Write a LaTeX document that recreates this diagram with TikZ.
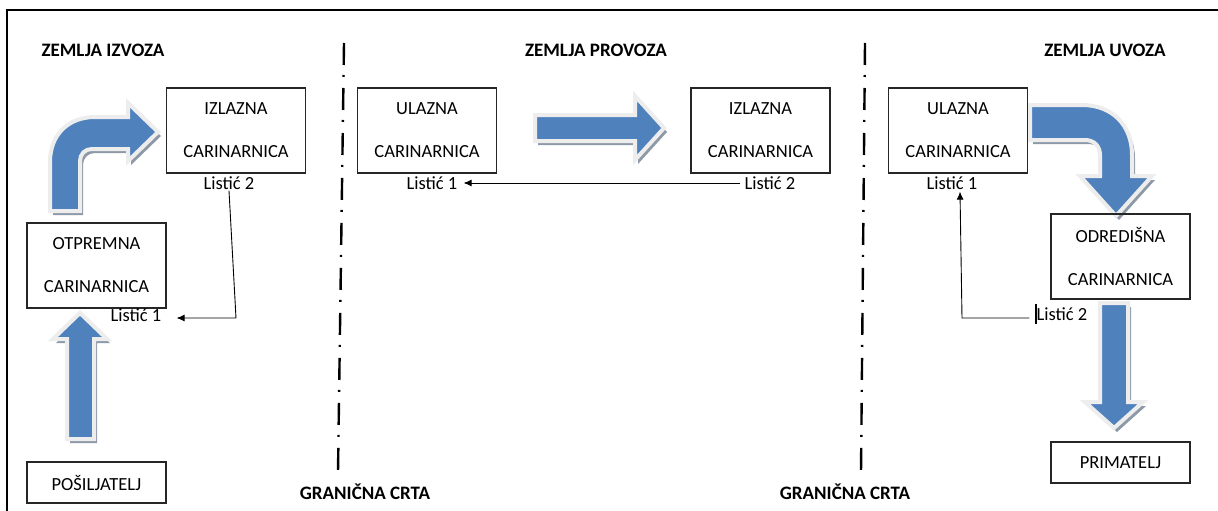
\documentclass[tikz,border=0pt]{standalone}
\usepackage{fontspec}
\setmainfont{Carlito}
\usetikzlibrary{arrows.meta}
\definecolor{arrblue}{HTML}{4F81BD}
\definecolor{haloc}{HTML}{EDEDED}
\definecolor{shadowc}{HTML}{8E99A8}
\begin{document}
\begin{tikzpicture}[x=1pt,y=-1pt,
  box/.style={draw=black!85, line width=1.1pt, minimum width=139pt, minimum height=85pt, inner sep=0pt, align=center, font=\fontsize{18.5}{43}\selectfont},
  sbox/.style={box, minimum height=41pt},
  lab/.style={font=\fontsize{18.5}{22}\selectfont, inner sep=1pt},
  head/.style={font=\bfseries\fontsize{19}{22}\selectfont, inner sep=0pt},
  border/.style={line width=2.4pt, dash pattern=on 22pt off 10pt on 2pt off 11pt},
  conn/.style={line width=0.9pt, -{Latex[length=8pt,width=7pt]}},
  blockarrow/.style={fill=arrblue, draw=haloc, line width=4pt, line join=miter,
     preaction={fill=shadowc, transform canvas={xshift=3pt,yshift=-4pt}}}]
\useasboundingbox (0,0) rectangle (1218,511);
\fill[white] (0,0) rectangle (1218,511);
% frame
\draw[line width=2.6pt] (7,511) -- (7,10) -- (1218,10);

% headings
\node[head] (h1) at (103,50) {ZEMLJA IZVOZA};
\node[head] (h2) at (596,50) {ZEMLJA PROVOZA};
\node[head] (h3) at (1105,50) {ZEMLJA UVOZA};

% border lines
\coordinate (b1t) at (344,43);
\coordinate (b1b) at (338,472);
\coordinate (b2t) at (865,43);
\coordinate (b2b) at (861,472);
\draw[border] (b1t) -- (b1b);
\draw[border] (b2t) -- (b2b);
\node[head] (g1) at (365,492) {GRANIČNA CRTA};
\node[head] (g2) at (845,492) {GRANIČNA CRTA};

% block arrows
\path[blockarrow] (67,439) -- (67,339) -- (53,339) -- (80,313) -- (107,339) -- (94,339) -- (94,439) -- cycle;
\path[blockarrow] (50,211) -- (50,162) .. controls (50,135) and (68,117) .. (95,117) -- (128,117) -- (128,103) -- (158,132) -- (128,161) -- (128,149) -- (92,149) .. controls (85,149) and (80,154) .. (80,161) -- (80,211) -- cycle;
\path[blockarrow] (535,115) -- (635,115) -- (635,96) -- (664,128) -- (635,160) -- (635,141) -- (535,141) -- cycle;
\path[blockarrow] (1030,105) -- (1082,105) .. controls (1112,105) and (1132,125) .. (1132,155) -- (1132,176) -- (1152,176) -- (1116,216) -- (1080,176) -- (1100,176) -- (1100,155) .. controls (1100,146) and (1094,140) .. (1085,140) -- (1030,140) -- cycle;
\path[blockarrow] (1100,303) -- (1128,303) -- (1128,402) -- (1143,402) -- (1114,428) -- (1085,402) -- (1100,402) -- cycle;

% boxes
\node[box] (izl1) at (236,130.5) {IZLAZNA\\CARINARNICA};
\node[box] (otp) at (96.5,265.5) {OTPREMNA\\CARINARNICA};
\node[sbox] (pos) at (96.5,482.5) {POŠILJATELJ};
\node[box] (ul2) at (427,130.5) {ULAZNA\\CARINARNICA};
\node[box] (izl2) at (760.5,130.5) {IZLAZNA\\CARINARNICA};
\node[box] (ul3) at (958,130.5) {ULAZNA\\CARINARNICA};
\node[box] (odr) at (1120.5,256.5) {ODREDIŠNA\\CARINARNICA};
\node[sbox] (pri) at (1120.5,462.5) {PRIMATELJ};

% slips
\node[lab] (l2a) at (229,183) {Listić 2};
\node[lab] (l1a) at (136,315) {Listić 1};
\node[lab] (l1b) at (432,183) {Listić 1};
\node[lab] (l2b) at (770,183) {Listić 2};
\node[lab] (l1c) at (952,183) {Listić 1};
\node[lab] (l2c) at (1062,314) {Listić 2};

% connectors
\coordinate (c1) at (236,318);
\draw[conn] (l2a.south) -- (c1) -- ([xshift=14pt]l1a.east |- c1);
\draw[conn] ([xshift=-3pt]l2b.west) -- ([xshift=5pt]l1b.east);
\coordinate (c2) at (962,318);
\draw[conn] ([xshift=-6pt]l2c.west |- c2) -- (c2) -- ([xshift=8pt,yshift=-1pt]l1c.south);
\coordinate (cur1) at (1036,304);
\coordinate (cur2) at (1036,324);
\draw[line width=1.6pt] (cur1) -- (cur2);
\end{tikzpicture}
\end{document}
